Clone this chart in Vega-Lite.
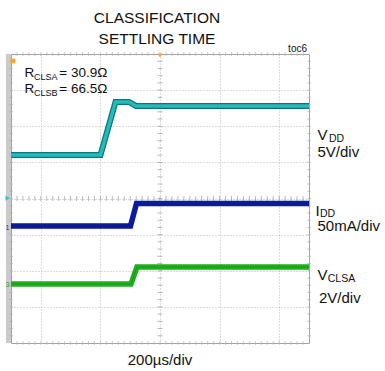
{
  "$schema": "https://vega.github.io/schema/vega-lite/v6.json",
  "width": 298,
  "height": 289,
  "autosize": {"type": "none"},
  "padding": {"left": 11, "top": 54, "right": 76, "bottom": 28},
  "background": "white",
  "config": {
    "view": {"stroke": "#a3a3a3", "strokeWidth": 1},
    "font": "Liberation Sans",
    "text": {"font": "Liberation Sans", "color": "#111111"}
  },
  "title": {
    "text": ["CLASSIFICATION", "SETTLING TIME"],
    "fontSize": 15.5,
    "font": "Liberation Sans",
    "fontWeight": "normal",
    "color": "#111111",
    "lineHeight": 21,
    "offset": -3,
    "anchor": "middle",
    "dx": -3
  },
  "datasets": {
    "traces": [
      {"ch": "VDD", "t": 0, "v": 1.204},
      {"ch": "VDD", "t": 3.003, "v": 1.204},
      {"ch": "VDD", "t": 3.507, "v": 2.671},
      {"ch": "VDD", "t": 3.96, "v": 2.671},
      {"ch": "VDD", "t": 4.195, "v": 2.561},
      {"ch": "VDD", "t": 10, "v": 2.561},
      {"ch": "IDD", "t": 0, "v": -0.761},
      {"ch": "IDD", "t": 4.01, "v": -0.761},
      {"ch": "IDD", "t": 4.211, "v": -0.138},
      {"ch": "IDD", "t": 10, "v": -0.138},
      {"ch": "VCLSA", "t": 0, "v": -2.367},
      {"ch": "VCLSA", "t": 4.027, "v": -2.367},
      {"ch": "VCLSA", "t": 4.228, "v": -1.896},
      {"ch": "VCLSA", "t": 10, "v": -1.896}
    ],
    "xminor": [
      {"t": 0.2}, {"t": 0.4}, {"t": 0.6}, {"t": 0.8}, {"t": 1.0},
      {"t": 1.2}, {"t": 1.4}, {"t": 1.6}, {"t": 1.8}, {"t": 2.0},
      {"t": 2.2}, {"t": 2.4}, {"t": 2.6}, {"t": 2.8}, {"t": 3.0},
      {"t": 3.2}, {"t": 3.4}, {"t": 3.6}, {"t": 3.8}, {"t": 4.0},
      {"t": 4.2}, {"t": 4.4}, {"t": 4.6}, {"t": 4.8}, {"t": 5.0},
      {"t": 5.2}, {"t": 5.4}, {"t": 5.6}, {"t": 5.8}, {"t": 6.0},
      {"t": 6.2}, {"t": 6.4}, {"t": 6.6}, {"t": 6.8}, {"t": 7.0},
      {"t": 7.2}, {"t": 7.4}, {"t": 7.6}, {"t": 7.8}, {"t": 8.0},
      {"t": 8.2}, {"t": 8.4}, {"t": 8.6}, {"t": 8.8}, {"t": 9.0},
      {"t": 9.2}, {"t": 9.4}, {"t": 9.6}, {"t": 9.8}
    ],
    "yminor": [
      {"t": -3.8}, {"t": -3.6}, {"t": -3.4}, {"t": -3.2}, {"t": -3.0},
      {"t": -2.8}, {"t": -2.6}, {"t": -2.4}, {"t": -2.2}, {"t": -2.0},
      {"t": -1.8}, {"t": -1.6}, {"t": -1.4}, {"t": -1.2}, {"t": -1.0},
      {"t": -0.8}, {"t": -0.6}, {"t": -0.4}, {"t": -0.2}, {"t": 0.0},
      {"t": 0.2}, {"t": 0.4}, {"t": 0.6}, {"t": 0.8}, {"t": 1.0},
      {"t": 1.2}, {"t": 1.4}, {"t": 1.6}, {"t": 1.8}, {"t": 2.0},
      {"t": 2.2}, {"t": 2.4}, {"t": 2.6}, {"t": 2.8}, {"t": 3.0},
      {"t": 3.2}, {"t": 3.4}, {"t": 3.6}, {"t": 3.8}
    ],
    "labels": [
      {"x": 0.453, "y": 3.36, "text": "R", "role": "left"},
      {"x": 1.62, "y": 3.36, "text": "= 30.9Ω", "role": "left"},
      {"x": 0.453, "y": 2.918, "text": "R", "role": "left"},
      {"x": 1.62, "y": 2.918, "text": "= 66.5Ω", "role": "left"},
      {"x": 0.77, "y": 3.29, "text": "CLSA", "role": "leftsub"},
      {"x": 0.77, "y": 2.848, "text": "CLSB", "role": "leftsub"},
      {"x": 10.285, "y": 1.619, "text": "V", "role": "main"},
      {"x": 10.285, "y": 1.149, "text": "5V/div", "role": "main"},
      {"x": 10.22, "y": -0.471, "text": "I", "role": "main"},
      {"x": 10.285, "y": -0.913, "text": "50mA/div", "role": "main"},
      {"x": 10.285, "y": -2.256, "text": "V", "role": "main"},
      {"x": 10.336, "y": -2.879, "text": "2V/div", "role": "main"},
      {"x": 10.67, "y": 1.56, "text": "DD", "role": "sub"},
      {"x": 10.37, "y": -0.5, "text": "DD", "role": "sub"},
      {"x": 10.63, "y": -2.32, "text": "CLSA", "role": "sub"},
      {"x": 5.0, "y": -4.609, "text": "200µs/div", "role": "time"},
      {"x": 9.933, "y": 4.055, "text": "toc6", "role": "tag"}
    ]
  },
  "layer": [
    {
      "data": {"values": [{"x1": -0.17, "x2": 0, "y1": -4, "y2": 4}]},
      "mark": {"type": "rect", "color": "#cbcbcb"},
      "encoding": {
        "x": {
          "field": "x1", "type": "quantitative",
          "scale": {"domain": [0, 10], "nice": false, "zero": false},
          "axis": {"values": [1, 2, 3, 4, 5, 6, 7, 8, 9], "grid": true, "gridColor": "#b8b8b8", "gridDash": [1, 2], "ticks": false, "labels": false, "domain": false, "title": null}
        },
        "x2": {"field": "x2"},
        "y": {
          "field": "y1", "type": "quantitative",
          "scale": {"domain": [-4, 4], "nice": false, "zero": false},
          "axis": {"values": [-3, -2, -1, 0, 1, 2, 3], "grid": true, "gridColor": "#b8b8b8", "gridDash": [1, 2], "ticks": false, "labels": false, "domain": false, "title": null}
        },
        "y2": {"field": "y2"}
      }
    },
    {
      "data": {"name": "xminor"},
      "mark": {"type": "tick", "orient": "vertical", "size": 5, "thickness": 1, "color": "#9a9a9a"},
      "encoding": {"x": {"field": "t", "type": "quantitative"}, "y": {"datum": 0}}
    },
    {
      "data": {"name": "xminor"},
      "mark": {"type": "tick", "orient": "vertical", "size": 4, "thickness": 1, "color": "#b5b5b5"},
      "encoding": {"x": {"field": "t", "type": "quantitative"}, "y": {"datum": 4}}
    },
    {
      "data": {"name": "xminor"},
      "mark": {"type": "tick", "orient": "vertical", "size": 4, "thickness": 1, "color": "#b5b5b5"},
      "encoding": {"x": {"field": "t", "type": "quantitative"}, "y": {"datum": -4}}
    },
    {
      "data": {"name": "yminor"},
      "mark": {"type": "tick", "orient": "horizontal", "size": 5, "thickness": 1, "color": "#9a9a9a"},
      "encoding": {"y": {"field": "t", "type": "quantitative"}, "x": {"datum": 5}}
    },
    {
      "data": {"name": "yminor"},
      "mark": {"type": "tick", "orient": "horizontal", "size": 4, "thickness": 1, "color": "#b5b5b5"},
      "encoding": {"y": {"field": "t", "type": "quantitative"}, "x": {"datum": 0}}
    },
    {
      "data": {"name": "yminor"},
      "mark": {"type": "tick", "orient": "horizontal", "size": 4, "thickness": 1, "color": "#b5b5b5"},
      "encoding": {"y": {"field": "t", "type": "quantitative"}, "x": {"datum": 10}}
    },
    {
      "data": {"name": "traces"},
      "transform": [{"filter": "datum.ch === 'VDD'"}],
      "mark": {"type": "line", "color": "#0f7577", "strokeWidth": 6, "strokeJoin": "miter"},
      "encoding": {"x": {"field": "t", "type": "quantitative"}, "y": {"field": "v", "type": "quantitative"}}
    },
    {
      "data": {"name": "traces"},
      "transform": [{"filter": "datum.ch === 'VDD'"}],
      "mark": {"type": "line", "color": "#22bcbc", "strokeWidth": 3.5, "strokeJoin": "miter"},
      "encoding": {"x": {"field": "t", "type": "quantitative"}, "y": {"field": "v", "type": "quantitative"}}
    },
    {
      "data": {"name": "traces"},
      "transform": [{"filter": "datum.ch === 'IDD'"}],
      "mark": {"type": "line", "color": "#0c1a9e", "strokeWidth": 5.5, "strokeJoin": "miter"},
      "encoding": {"x": {"field": "t", "type": "quantitative"}, "y": {"field": "v", "type": "quantitative"}}
    },
    {
      "data": {"name": "traces"},
      "transform": [{"filter": "datum.ch === 'VCLSA'"}],
      "mark": {"type": "line", "color": "#1faf1f", "strokeWidth": 5.5, "strokeJoin": "miter"},
      "encoding": {"x": {"field": "t", "type": "quantitative"}, "y": {"field": "v", "type": "quantitative"}}
    },
    {
      "data": {"name": "traces"},
      "transform": [{"filter": "datum.ch === 'VCLSA'"}],
      "mark": {"type": "line", "color": "#17951a", "strokeWidth": 1, "strokeJoin": "miter", "opacity": 0.7},
      "encoding": {"x": {"field": "t", "type": "quantitative"}, "y": {"field": "v", "type": "quantitative"}}
    },
    {
      "data": {"values": [
        {"x": 5.0, "y": 3.96, "m": "trigger"},
        {"x": 0.067, "y": 3.806, "m": "position"}
      ]},
      "mark": {"type": "point", "filled": true, "color": "#f5a623", "opacity": 1},
      "encoding": {
        "x": {"field": "x", "type": "quantitative"},
        "y": {"field": "y", "type": "quantitative"},
        "shape": {"field": "m", "type": "nominal", "scale": {"domain": ["trigger", "position"], "range": ["triangle-down", "square"]}, "legend": null},
        "size": {"field": "m", "type": "nominal", "scale": {"domain": ["trigger", "position"], "range": [22, 22]}, "legend": null}
      }
    },
    {
      "data": {"values": [{"x": -0.11, "y": 0.01}]},
      "mark": {"type": "point", "filled": true, "shape": "triangle-right", "color": "#2cc9d0", "size": 28, "opacity": 1},
      "encoding": {"x": {"field": "x", "type": "quantitative"}, "y": {"field": "y", "type": "quantitative"}}
    },
    {
      "data": {"values": [
        {"x": -0.12, "y": -0.82, "text": "1", "ch": "IDD"},
        {"x": -0.12, "y": -2.39, "text": "3", "ch": "VCLSA"}
      ]},
      "mark": {"type": "text", "fontSize": 7, "baseline": "middle", "align": "center"},
      "encoding": {
        "x": {"field": "x", "type": "quantitative"},
        "y": {"field": "y", "type": "quantitative"},
        "text": {"field": "text"},
        "color": {"field": "ch", "type": "nominal", "scale": {"domain": ["IDD", "VCLSA"], "range": ["#2a38c0", "#22a822"]}, "legend": null}
      }
    },
    {
      "data": {"name": "labels"},
      "transform": [{"filter": "datum.role === 'left'"}],
      "mark": {"type": "text", "fontSize": 13.5, "align": "left", "baseline": "alphabetic"},
      "encoding": {"x": {"field": "x", "type": "quantitative"}, "y": {"field": "y", "type": "quantitative"}, "text": {"field": "text"}}
    },
    {
      "data": {"name": "labels"},
      "transform": [{"filter": "datum.role === 'leftsub'"}],
      "mark": {"type": "text", "fontSize": 9, "align": "left", "baseline": "alphabetic"},
      "encoding": {"x": {"field": "x", "type": "quantitative"}, "y": {"field": "y", "type": "quantitative"}, "text": {"field": "text"}}
    },
    {
      "data": {"name": "labels"},
      "transform": [{"filter": "datum.role === 'main'"}],
      "mark": {"type": "text", "fontSize": 15, "align": "left", "baseline": "alphabetic"},
      "encoding": {"x": {"field": "x", "type": "quantitative"}, "y": {"field": "y", "type": "quantitative"}, "text": {"field": "text"}}
    },
    {
      "data": {"name": "labels"},
      "transform": [{"filter": "datum.role === 'sub'"}],
      "mark": {"type": "text", "fontSize": 10.5, "align": "left", "baseline": "alphabetic"},
      "encoding": {"x": {"field": "x", "type": "quantitative"}, "y": {"field": "y", "type": "quantitative"}, "text": {"field": "text"}}
    },
    {
      "data": {"name": "labels"},
      "transform": [{"filter": "datum.role === 'time'"}],
      "mark": {"type": "text", "fontSize": 15, "align": "center", "baseline": "alphabetic"},
      "encoding": {"x": {"field": "x", "type": "quantitative"}, "y": {"field": "y", "type": "quantitative"}, "text": {"field": "text"}}
    },
    {
      "data": {"name": "labels"},
      "transform": [{"filter": "datum.role === 'tag'"}],
      "mark": {"type": "text", "fontSize": 10, "align": "right", "baseline": "alphabetic"},
      "encoding": {"x": {"field": "x", "type": "quantitative"}, "y": {"field": "y", "type": "quantitative"}, "text": {"field": "text"}}
    }
  ]
}
